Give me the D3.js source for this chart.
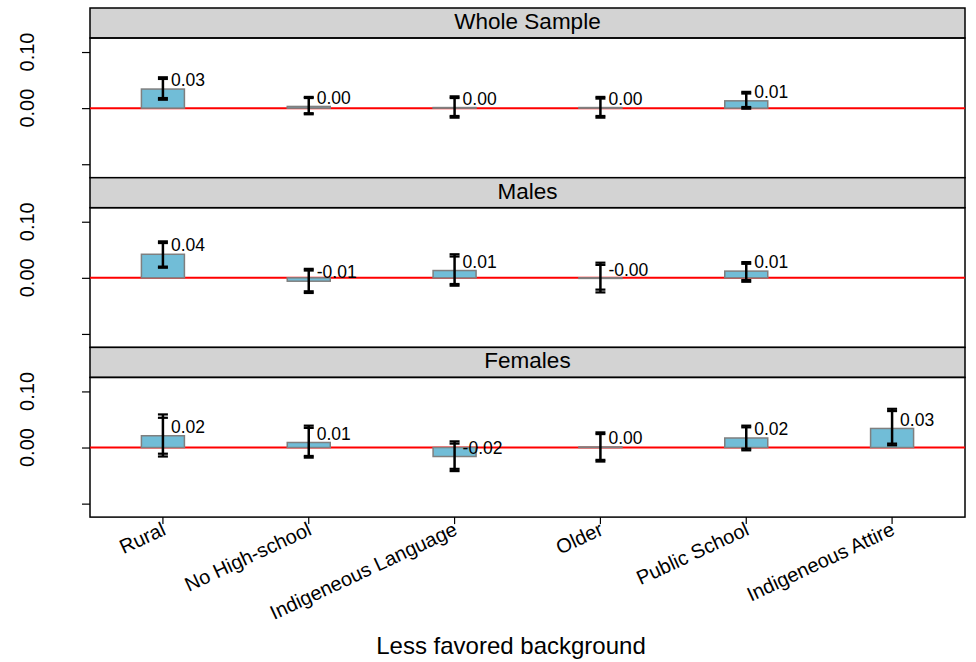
<!DOCTYPE html>
<html>
<head>
<title>Less favored background</title>
<script src="https://unpkg.com/d3@7/dist/d3.min.js"></script>
<style>
body { margin: 0; background: #fff; }
svg text { font-family: "Liberation Sans", Arial, Helvetica, sans-serif; fill: #000; }
</style>
</head>
<body>
<svg id="chart" width="976" height="662"></svg>
<script>
const categories = ["Rural", "No High-school", "Indigeneous Language", "Older", "Public School", "Indigeneous Attire"];
const panels = ["Whole Sample", "Males", "Females"];

// [estimate, lo95, hi95, lo90, hi90]  (null = not estimated)
const wholeSample = [
  [0.034, 0.015, 0.055, 0.018, 0.052],
  [0.003, -0.011, 0.020, -0.009, 0.018],
  [0.001, -0.017, 0.021, -0.014, 0.018],
  [0.001, -0.017, 0.020, -0.014, 0.017],
  [0.013, -0.001, 0.029, 0.002, 0.026],
  null
];
const males = [
  [0.042, 0.018, 0.065, 0.020, 0.062],
  [-0.006, -0.027, 0.016, -0.024, 0.013],
  [0.013, -0.014, 0.042, -0.011, 0.038],
  [-0.001, -0.026, 0.027, -0.021, 0.023],
  [0.012, -0.007, 0.028, -0.004, 0.025],
  null
];
const females = [
  [0.021, -0.016, 0.059, -0.011, 0.053],
  [0.009, -0.018, 0.039, -0.015, 0.035],
  [-0.016, -0.042, 0.011, -0.038, 0.007],
  [0.001, -0.025, 0.027, -0.022, 0.024],
  [0.017, -0.005, 0.039, -0.002, 0.036],
  [0.034, 0.004, 0.069, 0.007, 0.065]
];
const panelData = [wholeSample, males, females];

const yDomain = [-0.124, 0.125];
const yTicks = [-0.1, 0, 0.1];
const yTickLabels = ["", "0.00", "0.10"];
const xTitle = "Less favored background";

const svg = d3.select("#chart");
const left = 90, right = 965, top0 = 8, stripH = 30, panelH = 169.7;

const x = d3.scaleBand().domain(categories).range([left, right]);
const barW = 43;

panels.forEach((name, i) => {
  const pTop = top0 + i * panelH;
  const y = d3.scaleLinear().domain(yDomain).range([pTop + panelH, pTop + stripH]);
  const g = svg.append("g");

  // strip
  g.append("rect")
    .attr("x", left).attr("y", pTop)
    .attr("width", right - left).attr("height", stripH)
    .attr("fill", "#d3d3d3").attr("stroke", "#000").attr("stroke-width", 1.5);
  g.append("text")
    .attr("x", (left + right) / 2).attr("y", pTop + 21)
    .attr("text-anchor", "middle").style("font-size", "22.5px")
    .text(name);

  // panel box
  g.append("rect")
    .attr("x", left).attr("y", pTop + stripH)
    .attr("width", right - left).attr("height", panelH - stripH)
    .attr("fill", "none").attr("stroke", "#000").attr("stroke-width", 1.5);

  // y axis
  const ya = g.append("g")
    .attr("transform", `translate(${left},0)`)
    .call(d3.axisLeft(y).tickValues(yTicks).tickSize(8).tickFormat(""));
  ya.select(".domain").remove();
  ya.selectAll("line").attr("stroke", "#000").attr("stroke-width", 1.2);
  yTicks.forEach((t, k) => {
    g.append("text")
      .attr("transform", `translate(34,${y(t)}) rotate(-90)`)
      .attr("text-anchor", "middle").style("font-size", "20px")
      .text(yTickLabels[k]);
  });

  // zero line
  g.append("line")
    .attr("x1", left).attr("x2", right)
    .attr("y1", y(0)).attr("y2", y(0))
    .attr("stroke", "#ff0000").attr("stroke-width", 2);

  const rows = panelData[i].map((d, k) => d && {
    cat: categories[k], est: d[0], lo: d[1], hi: d[2], lo2: d[3], hi2: d[4]
  }).filter(d => d);

  // bars
  g.selectAll("rect.bar").data(rows).join("rect")
    .attr("class", "bar")
    .attr("x", d => x(d.cat) + x.bandwidth() / 2 - barW / 2)
    .attr("width", barW)
    .attr("y", d => y(Math.max(0, d.est)))
    .attr("height", d => Math.abs(y(d.est) - y(0)))
    .attr("fill", "#71bdd7").attr("stroke", "#7f7f7f").attr("stroke-width", 1.5);

  // error bars (two intervals)
  const eb = g.selectAll("g.eb").data(rows).join("g").attr("class", "eb")
    .attr("transform", d => `translate(${x(d.cat) + x.bandwidth() / 2},0)`);
  eb.append("line")
    .attr("y1", d => y(d.lo)).attr("y2", d => y(d.hi))
    .attr("stroke", "#000").attr("stroke-width", 2.5);
  ["lo", "hi", "lo2", "hi2"].forEach(key => {
    eb.append("line")
      .attr("x1", -5).attr("x2", 5)
      .attr("y1", d => y(d[key])).attr("y2", d => y(d[key]))
      .attr("stroke", "#000").attr("stroke-width", 2.2);
  });

  // value labels
  g.selectAll("text.val").data(rows).join("text")
    .attr("class", "val")
    .attr("x", d => x(d.cat) + x.bandwidth() / 2 + 8)
    .attr("y", d => y(d.est) - 9)
    .attr("dy", "0.35em")
    .style("font-size", "17.5px")
    .text(d => d.est.toFixed(2));

  // x axis on bottom panel
  if (i === panels.length - 1) {
    const xa = g.append("g")
      .attr("transform", `translate(0,${pTop + panelH})`)
      .call(d3.axisBottom(x).tickSize(7).tickPadding(0));
    xa.select(".domain").remove();
    xa.selectAll("line").attr("stroke", "#000").attr("stroke-width", 1.2);
    xa.selectAll("text")
      .attr("y", 0).attr("dy", 0)
      .attr("text-anchor", "end")
      .attr("transform", "translate(4,17) rotate(-25)")
      .style("font-size", "20px")
      .style("font-family", "'Liberation Sans', Arial, sans-serif")
      .attr("fill", "#000");
  }
});

svg.append("text")
  .attr("x", 511).attr("y", 654)
  .attr("text-anchor", "middle").style("font-size", "24px")
  .text(xTitle);
</script>
</body>
</html>
